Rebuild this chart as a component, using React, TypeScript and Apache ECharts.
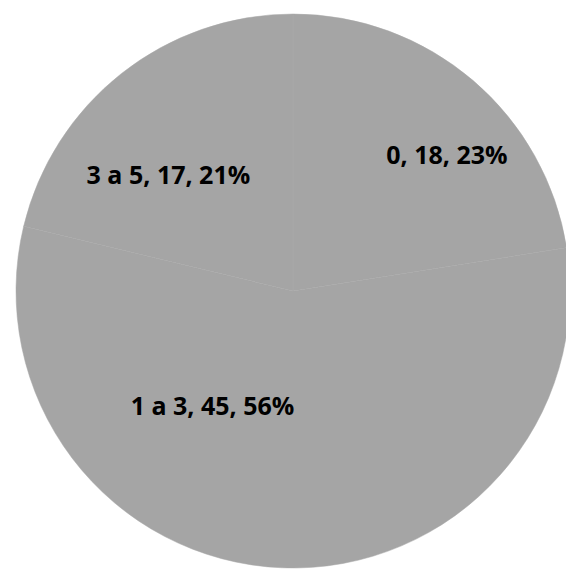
import React, { useEffect, useRef } from "react";
import * as echarts from "echarts";

const categories = ["0", "1 a 3", "3 a 5"];
const counts = [18, 45, 17];

// label nudges from the default "inside" anchor, per slice
const labelShift = [
  { dx: 62, dy: -29 },
  { dx: -75, dy: -27 },
  { dx: -37, dy: -6 },
];

export default function App() {
  const ref = useRef<HTMLDivElement>(null);
  useEffect(() => {
    document.body.style.margin = "0";
    const chart = echarts.init(ref.current!, null, { renderer: "svg" });
    chart.setOption({
      animation: false,
      backgroundColor: "#ffffff",
      series: [
        {
          type: "pie",
          center: [293, 291],
          radius: [0, 277],
          startAngle: 90,
          clockwise: true,
          percentPrecision: 0,
          itemStyle: { color: "#a5a5a5", borderColor: "#a8a8a8", borderWidth: 0.5 },
          emphasis: { disabled: true },
          label: {
            show: true,
            position: "inside",
            formatter: "{b}, {c}, {d}%",
            color: "#000000",
            fontWeight: "bold",
            fontSize: 25,
            fontFamily: "'Open Sans', 'Liberation Sans', sans-serif",
          },
          labelLine: { show: false },
          labelLayout: (p: any) => labelShift[p.dataIndex],
          data: categories.map((name, i) => ({ name, value: counts[i] })),
        },
      ],
    });
    return () => chart.dispose();
  }, []);
  return (
    <div
      ref={ref}
      style={{ position: "fixed", left: 0, top: 0, width: 566, height: 569 }}
    />
  );
}
